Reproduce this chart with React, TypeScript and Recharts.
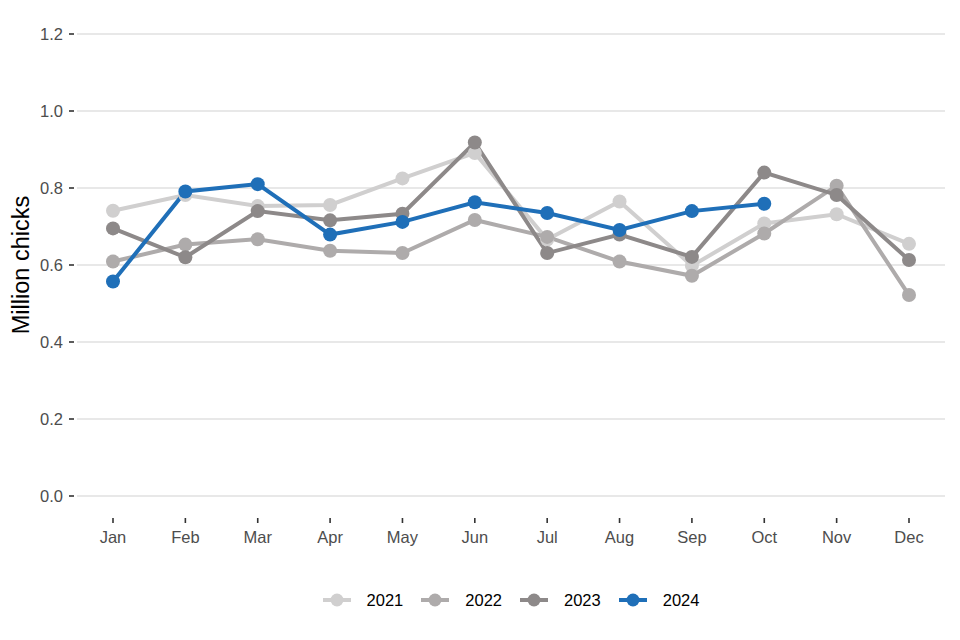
import { CartesianGrid, Legend, Line, LineChart, XAxis, YAxis } from 'recharts';

const MONTHS = ['Jan', 'Feb', 'Mar', 'Apr', 'May', 'Jun', 'Jul', 'Aug', 'Sep', 'Oct', 'Nov', 'Dec'];
const Y_TICKS = [0, 0.2, 0.4, 0.6, 0.8, 1.0, 1.2];

const Y2021 = [0.741, 0.782, 0.753, 0.756, 0.825, 0.891, 0.666, 0.765, 0.598, 0.708, 0.732, 0.655];
const Y2022 = [0.609, 0.653, 0.667, 0.637, 0.631, 0.717, 0.673, 0.609, 0.572, 0.682, 0.806, 0.522];
const Y2023 = [0.695, 0.62, 0.74, 0.716, 0.733, 0.918, 0.631, 0.679, 0.621, 0.84, 0.782, 0.613];
const Y2024: (number | null)[] = [0.557, 0.791, 0.81, 0.679, 0.712, 0.763, 0.735, 0.691, 0.74, 0.759, null, null];

const SERIES = [
  { key: 'y2021', name: '2021', color: '#d0cfcf' },
  { key: 'y2022', name: '2022', color: '#aeabab' },
  { key: 'y2023', name: '2023', color: '#8d8989' },
  { key: 'y2024', name: '2024', color: '#1f6fb8' },
];

const data = MONTHS.map((m, i) => ({
  month: m,
  y2021: Y2021[i],
  y2022: Y2022[i],
  y2023: Y2023[i],
  y2024: Y2024[i],
}));

const FONT = '"Liberation Sans", Arial, sans-serif';

function YTick(props: any) {
  const { x, y, payload } = props;
  return (
    <g>
      <line x1={x - 8} x2={x - 3} y1={y} y2={y} stroke="#333" strokeWidth={1.6} />
      <text x={x - 14} y={y} dy={5.8} textAnchor="end" fontSize={16.5} fill="#4d4d4d" fontFamily={FONT}>
        {Number(payload.value).toFixed(1)}
      </text>
    </g>
  );
}

function XTick(props: any) {
  const { x, y, payload } = props;
  return (
    <g>
      <line x1={x} x2={x} y1={y + 22} y2={y + 27} stroke="#333" strokeWidth={1.6} />
      <text x={x} y={y + 47} textAnchor="middle" fontSize={16.5} fill="#4d4d4d" fontFamily={FONT}>
        {payload.value}
      </text>
    </g>
  );
}

function LegendBox() {
  return (
    <div
      style={{
        display: 'flex',
        justifyContent: 'center',
        alignItems: 'center',
        gap: 18,
        height: 24,
        fontFamily: FONT,
        fontSize: 16.5,
        color: '#000',
      }}
    >
      {SERIES.map((s) => (
        <div key={s.key} style={{ display: 'flex', alignItems: 'center' }}>
          <svg width={28} height={16} style={{ marginRight: 16 }}>
            <line x1={0} x2={28} y1={8} y2={8} stroke={s.color} strokeWidth={4} />
            <circle cx={14} cy={8} r={6.5} fill={s.color} />
          </svg>
          <span>{s.name}</span>
        </div>
      ))}
    </div>
  );
}

export default function App() {
  return (
    <div style={{ width: 944, height: 624 }}>
      <LineChart
        width={944}
        height={624}
        data={data}
        margin={{ top: 26, right: 7, left: 0, bottom: 52 }}
      >
        <CartesianGrid vertical={false} stroke="#e8e8e8" strokeWidth={2} />
        <XAxis
          dataKey="month"
          height={60}
          axisLine={false}
          tickLine={false}
          tickSize={0}
          tickMargin={0}
          padding={{ left: 36, right: 36 }}
          interval={0}
          tick={<XTick />}
        />
        <YAxis
          width={69}
          domain={[0, 1.2]}
          ticks={Y_TICKS}
          axisLine={false}
          tickLine={false}
          tickSize={0}
          tickMargin={0}
          tick={<YTick />}
          label={{
            value: 'Million chicks',
            angle: -90,
            position: 'insideLeft',
            dx: 8,
            style: { textAnchor: 'middle', fontSize: 23.5, fill: '#000', fontFamily: FONT },
          }}
        />
        <Legend
          verticalAlign="bottom"
          content={<LegendBox />}
          wrapperStyle={{ left: 69, width: 868, top: 580, bottom: 'auto', height: 24 }}
        />
        {SERIES.map((s) => (
          <Line
            key={s.key}
            dataKey={s.key}
            name={s.name}
            stroke={s.color}
            strokeWidth={4}
            dot={{ r: 7, fill: s.color, stroke: 'none' }}
            activeDot={false}
            isAnimationActive={false}
            connectNulls={false}
          />
        ))}
      </LineChart>
    </div>
  );
}
